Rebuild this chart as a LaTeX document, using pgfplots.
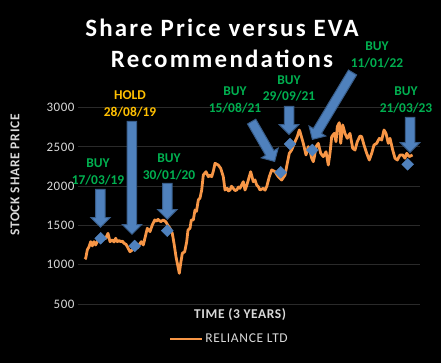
\documentclass[border=0pt]{standalone}
\usepackage{pgfplots}
\pgfplotsset{compat=1.18}
\usepackage{fontspec}
\setmainfont{Carlito}
\usetikzlibrary{shapes.arrows}
\definecolor{lineor}{HTML}{F79646}
\definecolor{buyg}{HTML}{00B050}
\definecolor{holdy}{HTML}{FFC000}
\definecolor{arrf}{HTML}{4F81BD}
\definecolor{arrd}{HTML}{385D8A}
\definecolor{gridc}{HTML}{2A2A2A}
\definecolor{tickc}{HTML}{D9D9D9}
\tikzset{
  barrow/.style={single arrow, draw=arrd, fill=arrf, line width=1bp, inner sep=0pt,
    single arrow head extend=5bp, single arrow head indent=0pt,
    text height=8.5bp, text depth=0pt, anchor=tip},
  blab/.style={font=\fontsize{13.5}{17}\selectfont\bfseries, text=buyg, align=center, inner sep=0pt},
  hlab/.style={font=\fontsize{13.5}{17}\selectfont\bfseries, text=holdy, align=center, inner sep=0pt},
  ttl/.style={font=\fontsize{25}{32}\selectfont\bfseries\addfontfeature{LetterSpace=9}, text=white, anchor=base, inner sep=0pt},
}
\begin{document}
\begin{tikzpicture}
\fill[black] (-85bp,-59bp) rectangle (356bp,304bp);
\begin{axis}[
  at={(0,0)}, anchor=south west,
  scale only axis, width=328bp, height=196.3bp,
  xmin=0, xmax=328, ymin=500, ymax=3000,
  axis line style={draw=none},
  xtick=\empty,
  ytick={500,1000,1500,2000,2500,3000},
  ymajorgrids, grid style={gridc, line width=1bp},
  major tick length=7bp, tick align=outside, tick style={gridc, line width=1bp},
  yticklabel style={font=\fontsize{13}{15}\selectfont\addfontfeature{LetterSpace=4}, text=tickc, /pgf/number format/.cd, set thousands separator={}, assume math mode=true},
  clip=false,
  xlabel={TIME (3 YEARS)},
  xlabel style={at={(axis description cs:0.473,-0.056)}, anchor=center, font=\fontsize{13.5}{15}\selectfont\bfseries\addfontfeature{LetterSpace=4.5}, text=tickc},
  ylabel={STOCK SHARE PRICE},
  ylabel style={at={(axis description cs:-0.213,0.657)}, anchor=center, rotate=0, font=\fontsize{13.5}{15}\selectfont\bfseries\addfontfeature{LetterSpace=5.5}, text=tickc},
  legend style={at={(axis description cs:0.44,-0.178)}, anchor=center, draw=none, fill=none,
    text=tickc, font=\fontsize{13.5}{15}\selectfont\addfontfeature{LetterSpace=5}},
  legend image code/.code={\draw[#1, line width=2.5bp] (0bp,0bp) -- (32bp,0bp);},
]
\addplot[lineor, line width=2.8bp, line join=round] table {
x y
0 1070
0.7 1082
2.3 1188
4 1230
5.7 1294
7.3 1240
9 1294
10.7 1252
12.3 1294
14 1337
15.5 1320
17.3 1358
19 1330
20.7 1337
23 1400
25 1294
27.3 1316
29 1290
30.7 1337
32.3 1294
34 1310
35.7 1294
37.5 1300
39 1273
41 1260
42.3 1230
45 1166
47.3 1188
49 1220
50.7 1230
52.5 1215
54 1252
56.3 1294
58.3 1252
60.7 1379
62.3 1464
65 1422
67.3 1506
69.7 1570
71.5 1555
73 1578
75.7 1549
78.3 1570
80.7 1549
83 1500
85 1464
87.3 1400
89 1273
91 1103
93 975
94.3 891
95.7 1018
97.3 1146
99.7 1166
101.7 1294
103 1443
105 1464
106.3 1570
108.3 1570
110 1697
111.5 1680
113.3 1825
115 1850
116.7 1952
118.3 2143
121 2185
123.3 2121
125 2140
126.7 2121
128.5 2200
130 2292
133.3 2270
135.7 2228
138.3 2121
140 1952
142.3 1973
143.5 1940
145 1952
146.5 2000
148.3 1973
150 1945
151.7 1952
153.5 1990
155 1973
158.3 2058
160 1952
161.5 2000
163.3 2079
165.7 2185
168.3 2058
170 2080
171.7 2015
173.5 1990
175 1952
178.3 1973
180 1950
181.7 1994
184.3 2121
186.7 2207
190 2185
193.3 2121
196.7 2079
200 2143
202.3 2292
204.3 2419
206.7 2462
210 2567
212.3 2631
214.3 2716
215 2694
218.3 2546
221 2398
223.3 2504
225 2450
226.7 2356
228.3 2313
229.5 2380
231 2504
233.3 2546
235.7 2419
238.3 2377
241 2440
243.3 2270
245 2419
246.7 2631
249.3 2673
251 2567
252.3 2758
254.3 2809
255.7 2546
257.7 2780
260 2673
262.3 2610
265 2673
267.7 2483
270 2461
272.3 2567
275 2640
276.7 2631
279 2525
281.7 2419
284.3 2334
286.7 2419
289 2525
291.7 2546
294.3 2610
296.7 2588
299 2716
301 2673
303.3 2546
305 2610
307.7 2461
310 2356
312.3 2334
315 2398
317.7 2398
320 2356
321.7 2419
324.3 2377
327.5 2398
};
\addlegendentry{RELIANCE LTD}
\addplot[only marks, mark=square*, mark size=4.2bp, mark options={rotate=45, fill=arrf, draw=arrf}, forget plot] table {
x y
15.7 1337
49.7 1239
82.3 1434
195.7 2177
205 2538
227.3 2461
322.7 2279
};
% arrows
\node[barrow, minimum height=38bp, rotate=-90] at (axis cs:15.5,1468) {};
\node[barrow, minimum height=113bp, rotate=-90] at (axis cs:47,1379) {};
\node[barrow, minimum height=36bp, rotate=-90] at (axis cs:82.3,1570) {};
\node[barrow, minimum height=46bp, rotate=-60] at (axis cs:190,2308) {};
\node[barrow, minimum height=28bp, rotate=-90] at (axis cs:204,2651) {};
\node[barrow, minimum height=78bp, rotate=-121] at (axis cs:227,2589) {};
\node[barrow, minimum height=35bp, rotate=-90] at (axis cs:325,2423) {};
% labels
\node[blab] at (axis cs:13,2187) {BUY\\17/03/19};
\node[hlab] at (axis cs:45,3047) {HOLD\\28/08/19};
\node[blab] at (axis cs:84,2251) {BUY\\30/01/20};
\node[blab] at (axis cs:150,3098) {BUY\\15/08/21};
\node[blab] at (axis cs:204,3245) {BUY\\29/09/21};
\node[blab] at (axis cs:292,3671) {BUY\\11/01/22};
\node[blab] at (axis cs:321,3104) {BUY\\21/03/23};
% title
\node[ttl] at (axis description cs:0.4177,1.3617) {Share Price versus EVA};
\node[ttl] at (axis description cs:0.4177,1.2023) {Recommendations};
\end{axis}
\pgfresetboundingbox
\useasboundingbox (-85bp,-59bp) rectangle (356bp,304bp);
\end{tikzpicture}
\end{document}
